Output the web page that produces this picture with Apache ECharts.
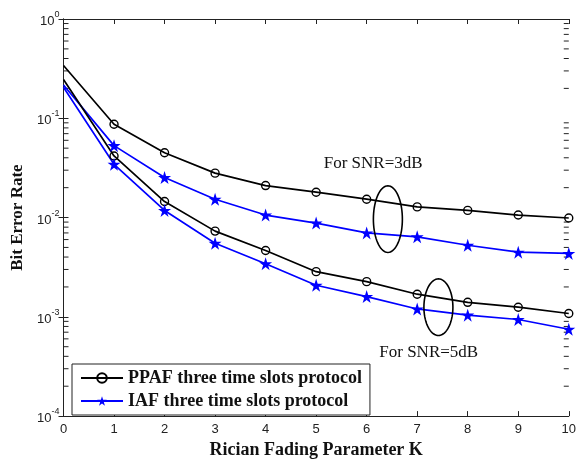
<!DOCTYPE html>
<html>
<head>
<meta charset="utf-8">
<script src="https://cdn.jsdelivr.net/npm/echarts@6/dist/echarts.min.js"></script>
<style>
html,body{margin:0;padding:0;background:#fff;}
#chart{width:579px;height:464px;}
</style>
</head>
<body>
<div id="chart"></div>
<script>
// Data
const K = [0, 1, 2, 3, 4, 5, 6, 7, 8, 9, 10];
const ppaf3 = [0.34, 0.087, 0.045, 0.028, 0.021, 0.018, 0.0153, 0.0128, 0.0118, 0.0106, 0.0099];
const iaf3 = [0.216, 0.053, 0.0253, 0.0153, 0.0106, 0.0088, 0.0070, 0.0064, 0.00526, 0.00448, 0.00435];
const ppaf5 = [0.246, 0.0417, 0.0145, 0.0073, 0.00466, 0.00285, 0.00226, 0.00169, 0.0014, 0.00125, 0.00108];
const iaf5 = [0.205, 0.0344, 0.0118, 0.0055, 0.00343, 0.00208, 0.0016, 0.0012, 0.00104, 0.00094, 0.00075];
const xTicks = [0, 1, 2, 3, 4, 5, 6, 7, 8, 9, 10];
const yTicks = [1e-4, 1e-3, 1e-2, 1e-1, 1];
const seriesNames = ['PPAF three time slots protocol', 'IAF three time slots protocol'];
const xTitle = 'Rician Fading Parameter K';
const yTitle = 'Bit Error Rate';
const notes = [
  { text: 'For SNR=3dB', x: 5.15, y: 0.0349 },
  { text: 'For SNR=5dB', x: 6.25, y: 0.000433 }
];
const ellipses = [
  { x: 6.42, y: 0.00964 },
  { x: 7.42, y: 0.00125 }
];

const STAR = 'path://M100 0 L122.45 69.1 L195.1 69.1 L136.3 111.8 L158.8 180.9 L100 138.2 L41.2 180.9 L63.7 111.8 L4.9 69.1 L77.55 69.1 Z';
const serif = '"Liberation Serif", "Times New Roman", serif';
const sans = '"Liberation Sans", Arial, sans-serif';
const axisColor = '#222';

// first point (K = 0) is drawn without a marker, as in the reference
const pts = a => K.map((k, i) => (i === 0 ? { value: [k, a[i]], symbol: 'none' } : [k, a[i]]));

const minorVals = [];
for (let e = -4; e < 0; e++) {
  for (let m = 2; m <= 9; m++) minorVals.push(m * Math.pow(10, e));
}

function lineSeries(name, arr, color, symbol, size, filled) {
  return {
    type: 'line', name: name, data: pts(arr),
    xAxisIndex: 0, yAxisIndex: 0,
    symbol: symbol, symbolSize: size, showSymbol: true,
    lineStyle: { color: color, width: 1.7 },
    itemStyle: filled ? { color: color, borderWidth: 0 } : { color: 'rgba(255,255,255,0)', borderColor: color, borderWidth: 1.4 },
    z: 3, animation: false
  };
}

const chart = echarts.init(document.getElementById('chart'), null, { renderer: 'canvas' });
chart.setOption({
  animation: false,
  backgroundColor: '#fff',
  grid: { left: 63.5, right: 9.5, top: 19, bottom: 44.3, containLabel: false },
  xAxis: [
    {
      type: 'value', min: 0, max: 10, interval: 1, position: 'bottom',
      axisLine: { show: true, lineStyle: { color: axisColor, width: 1 } },
      axisTick: { show: true, inside: true, length: 5, lineStyle: { color: axisColor } },
      axisLabel: { margin: 7, fontSize: 13, fontFamily: sans, color: axisColor },
      splitLine: { show: false },
      name: xTitle, nameLocation: 'middle', nameGap: 23,
      nameTextStyle: { fontFamily: serif, fontWeight: 'bold', fontSize: 18, color: '#111' }
    },
    {
      type: 'value', min: 0, max: 10, interval: 1, position: 'top',
      axisLine: { show: true, lineStyle: { color: axisColor, width: 1 } },
      axisTick: { show: true, inside: true, length: 5, lineStyle: { color: axisColor } },
      axisLabel: { show: false }, splitLine: { show: false }
    }
  ],
  yAxis: [
    {
      type: 'log', logBase: 10, min: 1e-4, max: 1, position: 'left',
      axisLine: { show: true, lineStyle: { color: axisColor, width: 1 } },
      axisTick: { show: true, inside: true, length: 5, lineStyle: { color: axisColor } },
      axisLabel: {
        margin: 4, color: axisColor,
        formatter: v => '{b|10}{s|' + Math.round(Math.log10(v)) + '}',
        rich: {
          b: { fontSize: 13, fontFamily: sans, color: axisColor, lineHeight: 18, verticalAlign: 'bottom' },
          s: { fontSize: 9, fontFamily: sans, color: axisColor, lineHeight: 18, verticalAlign: 'top' }
        }
      },
      splitLine: { show: false },
      name: yTitle, nameLocation: 'middle', nameGap: 31, nameRotate: 90,
      nameTextStyle: { fontFamily: serif, fontWeight: 'bold', fontSize: 17, color: '#111' }
    },
    {
      type: 'log', logBase: 10, min: 1e-4, max: 1, position: 'right',
      axisLine: { show: true, lineStyle: { color: axisColor, width: 1 } },
      axisTick: { show: true, inside: true, length: 5, lineStyle: { color: axisColor } },
      axisLabel: { show: false }, splitLine: { show: false }
    }
  ],
  legend: {
    data: seriesNames.map(n => ({ name: n })),
    orient: 'vertical', left: 72, top: 364,
    itemWidth: 42, itemHeight: 12, itemGap: 5,
    padding: [5, 8, 5, 8],
    backgroundColor: '#fff', borderColor: '#222', borderWidth: 1, borderRadius: 0,
    textStyle: { fontFamily: serif, fontWeight: 'bold', fontSize: 18, color: '#111' },
    selectedMode: false
  },
  series: [
    lineSeries(seriesNames[0], ppaf3, '#000', 'circle', 8, false),
    lineSeries(seriesNames[1], iaf3, '#0000ff', STAR, 13, true),
    lineSeries(seriesNames[0], ppaf5, '#000', 'circle', 8, false),
    lineSeries(seriesNames[1], iaf5, '#0000ff', STAR, 13, true),
    {
      type: 'custom', name: 'minorTicks', silent: true, clip: false,
      data: minorVals.map(v => [0, v]),
      renderItem: function (params, api) {
        const v = api.value(1);
        const l = api.coord([0, v]);
        const r = api.coord([10, v]);
        return {
          type: 'group', children: [
            { type: 'line', shape: { x1: l[0], y1: l[1], x2: l[0] + 5, y2: l[1] }, style: { stroke: axisColor, lineWidth: 1 } },
            { type: 'line', shape: { x1: r[0], y1: r[1], x2: r[0] - 5, y2: r[1] }, style: { stroke: axisColor, lineWidth: 1 } }
          ]
        };
      },
      z: 1
    },
    {
      type: 'custom', name: 'ellipses', silent: true, clip: false,
      data: ellipses.map(e => [e.x, e.y]),
      renderItem: function (params, api) {
        const c = api.coord([api.value(0), api.value(1)]);
        const rx = 14.5, ry = params.dataIndex === 0 ? 33.3 : 28.3;
        const p = [];
        for (let i = 0; i < 72; i++) {
          const t = i / 72 * Math.PI * 2;
          p.push([c[0] + rx * Math.cos(t), c[1] + ry * Math.sin(t)]);
        }
        return { type: 'polygon', shape: { points: p }, style: { fill: 'none', stroke: '#000', lineWidth: 1.6 } };
      },
      z: 4
    },
    {
      type: 'custom', name: 'notes', silent: true, clip: false,
      data: notes.map(n => [n.x, n.y]),
      renderItem: function (params, api) {
        const c = api.coord([api.value(0), api.value(1)]);
        return {
          type: 'text', x: c[0], y: c[1],
          style: { text: notes[params.dataIndex].text, fontFamily: serif, fontSize: 17, fill: '#111', verticalAlign: 'middle', align: 'left' }
        };
      },
      z: 4
    }
  ]
});
</script>
</body>
</html>
